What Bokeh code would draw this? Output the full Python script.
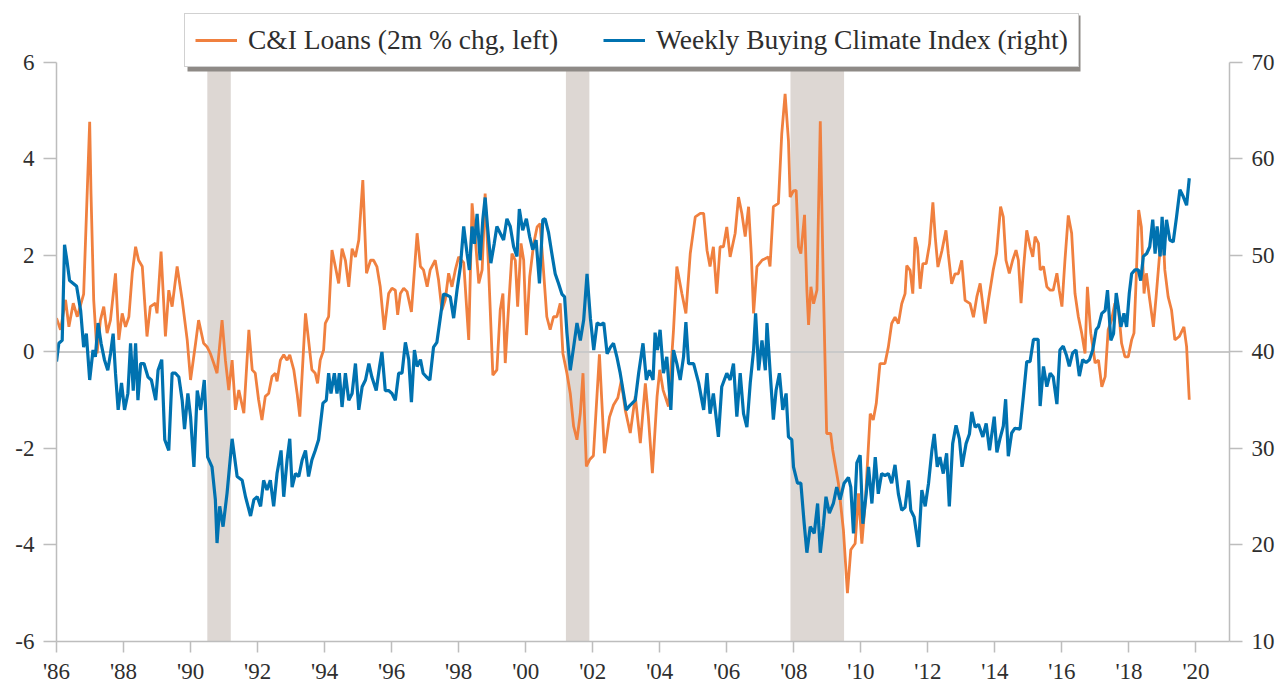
from bokeh.plotting import figure
from bokeh.models import (Range1d, LinearAxis, FixedTicker, BoxAnnotation, Span,
                          Legend, LegendItem)
from bokeh.embed import file_html
from bokeh.resources import INLINE

# ---------------- data ----------------
ci_years = [
    1986.00, 1986.12, 1986.27, 1986.37, 1986.50, 1986.62, 1986.81, 1986.99, 1987.03, 1987.11,
    1987.21, 1987.31, 1987.41, 1987.51, 1987.61, 1987.76, 1987.86, 1987.96, 1988.06, 1988.16,
    1988.26, 1988.36, 1988.45, 1988.56, 1988.70, 1988.80, 1988.95, 1989.00, 1989.12, 1989.25,
    1989.35, 1989.45, 1989.60, 1989.75, 1989.90, 1990.00, 1990.15, 1990.24, 1990.39, 1990.49,
    1990.59, 1990.69, 1990.79, 1990.94, 1991.04, 1991.14, 1991.24, 1991.34, 1991.44, 1991.59,
    1991.74, 1991.84, 1991.93, 1992.03, 1992.13, 1992.23, 1992.33, 1992.43, 1992.53, 1992.58,
    1992.68, 1992.78, 1992.88, 1992.96, 1993.08, 1993.18, 1993.26, 1993.43, 1993.52, 1993.62,
    1993.72, 1993.79, 1993.87, 1993.97, 1994.02, 1994.12, 1994.22, 1994.32, 1994.42, 1994.52,
    1994.62, 1994.72, 1994.82, 1994.92, 1995.02, 1995.14, 1995.25, 1995.37, 1995.46, 1995.56,
    1995.66, 1995.78, 1995.91, 1996.01, 1996.11, 1996.18, 1996.26, 1996.36, 1996.46, 1996.59,
    1996.76, 1996.86, 1996.95, 1997.06, 1997.15, 1997.30, 1997.40, 1997.50, 1997.60, 1997.70,
    1997.80, 1997.90, 1998.00, 1998.15, 1998.30, 1998.40, 1998.50, 1998.60, 1998.70, 1998.79,
    1998.89, 1999.02, 1999.14, 1999.24, 1999.32, 1999.39, 1999.49, 1999.59, 1999.69, 1999.76,
    1999.86, 1999.94, 2000.02, 2000.12, 2000.24, 2000.34, 2000.43, 2000.53, 2000.63, 2000.73,
    2000.83, 2000.93, 2001.03, 2001.11, 2001.23, 2001.33, 2001.43, 2001.53, 2001.63, 2001.71,
    2001.81, 2001.91, 2002.02, 2002.20, 2002.35, 2002.50, 2002.62, 2002.75, 2002.85, 2002.97,
    2003.12, 2003.27, 2003.42, 2003.57, 2003.66, 2003.78, 2003.92, 2004.00, 2004.10, 2004.26,
    2004.41, 2004.51, 2004.66, 2004.78, 2004.91, 2005.06, 2005.21, 2005.31, 2005.41, 2005.50,
    2005.60, 2005.70, 2005.80, 2005.90, 2006.00, 2006.10, 2006.25, 2006.35, 2006.45, 2006.55,
    2006.65, 2006.73, 2006.80, 2006.90, 2007.05, 2007.24, 2007.29, 2007.39, 2007.54, 2007.64,
    2007.74, 2007.84, 2007.89, 2007.99, 2008.07, 2008.14, 2008.21, 2008.32, 2008.39, 2008.44,
    2008.51, 2008.59, 2008.69, 2008.79, 2008.88, 2008.98, 2009.10, 2009.16, 2009.33, 2009.48,
    2009.60, 2009.70, 2009.83, 2009.93, 2010.03, 2010.13, 2010.28, 2010.37, 2010.46, 2010.57,
    2010.72, 2010.82, 2010.92, 2011.02, 2011.12, 2011.22, 2011.32, 2011.37, 2011.47, 2011.55,
    2011.62, 2011.69, 2011.77, 2011.85, 2011.95, 2012.05, 2012.15, 2012.22, 2012.30, 2012.42,
    2012.54, 2012.61, 2012.71, 2012.81, 2012.91, 2013.01, 2013.11, 2013.26, 2013.36, 2013.46,
    2013.56, 2013.71, 2013.81, 2013.95, 2014.05, 2014.17, 2014.25, 2014.33, 2014.43, 2014.53,
    2014.63, 2014.70, 2014.78, 2014.85, 2014.95, 2015.05, 2015.13, 2015.20, 2015.30, 2015.35,
    2015.45, 2015.55, 2015.65, 2015.74, 2015.85, 2015.92, 2016.00, 2016.09, 2016.19, 2016.29,
    2016.39, 2016.49, 2016.59, 2016.69, 2016.76, 2016.86, 2016.99, 2017.09, 2017.19, 2017.29,
    2017.38, 2017.48, 2017.58, 2017.68, 2017.78, 2017.88, 2017.98, 2018.08, 2018.15, 2018.21,
    2018.29, 2018.37, 2018.45, 2018.52, 2018.62, 2018.73, 2018.81, 2018.90, 2019.01, 2019.07,
    2019.17, 2019.27, 2019.37, 2019.50, 2019.64, 2019.72, 2019.80,
]
ci_values = [
    0.70, 0.46, 1.08, 0.52, 1.01, 0.73, 1.20, 4.77, 3.28, 1.08,
    -0.03, 0.66, 0.94, 0.39, 0.66, 1.63, 0.25, 0.80, 0.52, 0.73,
    1.63, 2.18, 1.90, 1.77, 0.32, 0.94, 1.01, 0.80, 2.08, 0.32,
    1.28, 0.94, 1.77, 1.08, 0.25, -0.58, 0.18, 0.66, 0.18, 0.11,
    -0.03, -0.23, -0.44, 0.66, -0.17, -0.79, -0.17, -1.20, -0.79, -1.27,
    0.46, -0.37, -0.44, -0.99, -1.41, -0.92, -0.86, -0.51, -0.44, -0.61,
    -0.17, -0.06, -0.17, -0.06, -0.37, -0.86, -1.34, 0.80, 0.25, -0.37,
    -0.44, -0.65, -0.17, 0.04, 0.59, 0.73, 2.11, 1.77, 1.42, 2.14,
    1.90, 1.35, 2.14, 1.97, 2.32, 3.56, 1.63, 1.90, 1.90, 1.77,
    1.35, 0.46, 1.21, 1.32, 1.28, 0.77, 1.21, 1.32, 1.25, 0.83,
    2.46, 1.77, 1.70, 1.35, 1.70, 1.90, 1.49, 0.87, 1.08, 1.63,
    1.35, 1.70, 1.97, 1.85, 0.25, 3.08, 2.32, 1.42, 1.70, 3.28,
    1.77, -0.48, -0.37, 0.87, 1.21, -0.23, 0.94, 2.04, 1.90, 0.94,
    2.25, 1.90, 0.35, 1.56, 2.25, 2.59, 2.66, 1.70, 0.73, 0.46,
    0.73, 0.73, 1.01, -0.03, -0.44, -0.86, -1.54, -1.82, -1.27, -0.44,
    -2.37, -2.23, -2.15, -0.05, -2.10, -1.35, -1.10, -0.95, -0.60, -1.20,
    -1.68, -0.92, -1.89, -0.65, -1.34, -2.51, -0.92, -0.37, -0.79, -1.13,
    0.45, 1.77, 1.21, 0.80, 2.04, 2.80, 2.87, 2.87, 2.11, 1.77,
    2.18, 1.21, 2.18, 2.18, 2.59, 1.97, 2.46, 3.21, 2.87, 2.39,
    3.01, 2.04, 0.80, 1.77, 1.90, 1.97, 1.77, 3.01, 3.08, 4.52,
    5.35, 4.38, 3.21, 3.34, 3.35, 2.18, 2.04, 2.84, 1.28, 0.56,
    1.35, 1.00, 1.28, 4.78, 1.41, -1.69, -1.69, -2.03, -2.72, -3.69,
    -5.00, -4.10, -3.97, -2.93, -3.97, -3.14, -1.28, -1.41, -1.07, -0.24,
    -0.24, 0.10, 0.59, 0.72, 0.59, 1.00, 1.21, 1.79, 1.69, 1.21,
    2.38, 2.17, 1.31, 1.83, 1.83, 2.24, 3.10, 2.38, 1.76, 2.10,
    2.52, 2.03, 1.41, 1.62, 1.62, 1.90, 1.07, 1.00, 0.72, 1.14,
    1.42, 0.59, 1.08, 1.70, 2.04, 3.01, 2.80, 1.90, 1.63, 1.90,
    2.11, 1.90, 1.01, 1.70, 2.52, 2.18, 1.97, 2.39, 2.25, 1.70,
    1.77, 1.35, 1.28, 1.28, 1.63, 1.28, 0.94, 1.90, 2.83, 2.46,
    1.21, 0.73, 0.39, -0.03, 1.35, 0.39, -0.23, -0.17, -0.72, -0.51,
    0.46, 0.66, 1.01, 0.94, 0.18, -0.10, -0.10, 0.25, 0.39, 1.42,
    2.94, 2.59, 1.21, 1.63, 1.08, 0.52, 1.14, 1.90, 2.59, 1.70,
    1.14, 0.87, 0.25, 0.32, 0.52, 0.11, -0.99,
]

bci_years = [
    1986.00, 1986.07, 1986.17, 1986.24, 1986.31, 1986.39, 1986.50, 1986.60, 1986.72, 1986.81,
    1986.89, 1986.99, 1987.09, 1987.16, 1987.24, 1987.33, 1987.43, 1987.53, 1987.61, 1987.69,
    1987.76, 1987.84, 1987.94, 1988.03, 1988.13, 1988.21, 1988.29, 1988.36, 1988.43, 1988.51,
    1988.61, 1988.73, 1988.83, 1988.96, 1989.03, 1989.14, 1989.23, 1989.35, 1989.45, 1989.55,
    1989.65, 1989.75, 1989.82, 1989.92, 1990.00, 1990.10, 1990.20, 1990.30, 1990.41, 1990.51,
    1990.64, 1990.74, 1990.79, 1990.87, 1990.97, 1991.09, 1991.24, 1991.39, 1991.54, 1991.64,
    1991.79, 1991.89, 1991.99, 1992.09, 1992.18, 1992.28, 1992.38, 1992.48, 1992.58, 1992.70,
    1992.78, 1992.88, 1992.96, 1993.03, 1993.13, 1993.23, 1993.33, 1993.43, 1993.52, 1993.62,
    1993.72, 1993.82, 1993.95, 1994.05, 1994.12, 1994.19, 1994.29, 1994.37, 1994.44, 1994.52,
    1994.62, 1994.72, 1994.82, 1994.92, 1995.02, 1995.12, 1995.22, 1995.32, 1995.41, 1995.54,
    1995.64, 1995.71, 1995.81, 1995.91, 1996.01, 1996.11, 1996.21, 1996.31, 1996.41, 1996.51,
    1996.59, 1996.68, 1996.76, 1996.86, 1996.94, 1997.04, 1997.14, 1997.25, 1997.35, 1997.45,
    1997.55, 1997.65, 1997.75, 1997.85, 1997.95, 1998.05, 1998.15, 1998.25, 1998.32, 1998.40,
    1998.47, 1998.55, 1998.64, 1998.72, 1998.79, 1998.86, 1998.96, 1999.06, 1999.14, 1999.24,
    1999.34, 1999.44, 1999.54, 1999.64, 1999.74, 1999.81, 1999.91, 2000.02, 2000.12, 2000.21,
    2000.31, 2000.41, 2000.51, 2000.58, 2000.68, 2000.78, 2000.88, 2000.98, 2001.08, 2001.16,
    2001.23, 2001.33, 2001.43, 2001.53, 2001.63, 2001.73, 2001.83, 2001.93, 2002.03, 2002.13,
    2002.23, 2002.33, 2002.43, 2002.53, 2002.62, 2002.72, 2002.82, 2002.92, 2003.00, 2003.12,
    2003.27, 2003.37, 2003.50, 2003.60, 2003.69, 2003.80, 2003.86, 2003.93, 2004.01, 2004.11,
    2004.21, 2004.33, 2004.41, 2004.51, 2004.61, 2004.71, 2004.78, 2004.86, 2005.01, 2005.16,
    2005.31, 2005.41, 2005.50, 2005.60, 2005.75, 2005.85, 2006.00, 2006.10, 2006.20, 2006.30,
    2006.40, 2006.50, 2006.60, 2006.70, 2006.80, 2006.86, 2006.95, 2007.05, 2007.15, 2007.20,
    2007.29, 2007.39, 2007.47, 2007.57, 2007.67, 2007.77, 2007.84, 2007.94, 2007.99, 2008.11,
    2008.21, 2008.31, 2008.39, 2008.49, 2008.61, 2008.71, 2008.79, 2008.88, 2008.96, 2009.06,
    2009.18, 2009.28, 2009.38, 2009.50, 2009.63, 2009.70, 2009.78, 2009.88, 2009.98, 2010.06,
    2010.16, 2010.23, 2010.33, 2010.43, 2010.52, 2010.62, 2010.72, 2010.82, 2010.92, 2011.02,
    2011.12, 2011.22, 2011.32, 2011.42, 2011.49, 2011.59, 2011.72, 2011.82, 2011.92, 2012.02,
    2012.12, 2012.19, 2012.28, 2012.36, 2012.46, 2012.56, 2012.64, 2012.74, 2012.84, 2012.94,
    2013.02, 2013.14, 2013.24, 2013.31, 2013.41, 2013.51, 2013.64, 2013.74, 2013.84, 2013.98,
    2014.06, 2014.15, 2014.25, 2014.32, 2014.40, 2014.50, 2014.60, 2014.75, 2014.85, 2014.95,
    2015.05, 2015.15, 2015.29, 2015.35, 2015.45, 2015.55, 2015.65, 2015.74, 2015.85, 2015.94,
    2016.04, 2016.14, 2016.22, 2016.32, 2016.42, 2016.52, 2016.62, 2016.72, 2016.82, 2016.92,
    2017.02, 2017.09, 2017.19, 2017.29, 2017.36, 2017.46, 2017.54, 2017.62, 2017.68, 2017.76,
    2017.85, 2017.93, 2018.01, 2018.08, 2018.18, 2018.28, 2018.35, 2018.43, 2018.53, 2018.62,
    2018.71, 2018.78, 2018.84, 2018.93, 2018.99, 2019.05, 2019.12, 2019.22, 2019.32, 2019.42,
    2019.52, 2019.62, 2019.72, 2019.80,
]
bci_values = [
    39.0, 40.9, 41.2, 51.1, 49.5, 47.4, 47.1, 46.8, 44.3, 40.5,
    41.9, 37.1, 40.2, 39.5, 43.0, 40.9, 39.2, 38.1, 39.8, 41.9,
    37.8, 34.0, 36.8, 34.0, 35.7, 40.9, 36.0, 40.9, 35.0, 38.8,
    38.8, 37.4, 37.1, 35.0, 38.1, 39.2, 30.9, 29.8, 37.8, 37.8,
    37.4, 35.0, 32.0, 35.7, 33.3, 28.1, 36.0, 34.0, 37.1, 29.1,
    28.1, 24.7, 20.2, 24.0, 21.9, 25.4, 31.0, 27.1, 26.7, 25.0,
    23.0, 24.7, 25.0, 24.0, 26.7, 25.7, 26.7, 24.0, 27.4, 29.8,
    25.0, 28.8, 31.0, 26.0, 27.4, 27.1, 28.8, 29.8, 27.1, 28.8,
    29.8, 30.9, 34.7, 35.0, 37.8, 35.7, 37.8, 35.7, 37.8, 34.3,
    37.8, 35.0, 35.7, 38.8, 34.0, 36.4, 37.1, 38.8, 37.4, 36.0,
    38.5, 40.0, 36.0, 36.0, 35.7, 35.0, 37.8, 37.8, 41.0, 39.2,
    34.8, 40.2, 38.5, 39.2, 37.8, 37.4, 37.1, 40.5, 41.0, 43.5,
    46.0, 45.9, 45.7, 43.5, 46.4, 48.8, 53.0, 50.2, 48.5, 53.0,
    51.2, 54.3, 49.5, 53.7, 56.0, 53.0, 49.2, 51.2, 53.0, 52.3,
    51.6, 53.8, 53.0, 50.9, 49.9, 54.8, 52.6, 53.8, 51.9, 50.6,
    51.6, 47.1, 53.7, 53.8, 52.4, 50.2, 48.1, 47.1, 46.0, 45.7,
    42.0, 38.1, 40.5, 43.0, 41.2, 43.3, 48.1, 43.5, 40.2, 43.0,
    42.8, 43.0, 39.8, 40.5, 40.9, 39.5, 37.8, 35.7, 34.0, 34.5,
    35.0, 37.8, 40.9, 37.1, 38.1, 37.1, 42.0, 40.2, 42.3, 37.8,
    39.5, 34.0, 40.2, 38.8, 37.1, 39.5, 43.1, 38.8, 38.8, 36.8,
    34.0, 37.8, 33.6, 35.7, 31.2, 36.4, 37.8, 37.1, 38.8, 33.3,
    37.8, 33.6, 32.2, 36.8, 40.2, 44.0, 38.1, 41.2, 38.1, 43.0,
    38.1, 33.0, 36.0, 37.8, 34.0, 35.7, 31.2, 30.9, 28.1, 26.4,
    26.4, 22.2, 19.2, 21.9, 21.2, 24.3, 19.2, 22.0, 25.0, 23.3,
    24.3, 26.0, 24.7, 26.4, 27.0, 26.0, 21.2, 28.5, 29.3, 22.2,
    25.3, 28.1, 24.3, 29.1, 25.3, 27.4, 27.2, 27.4, 26.4, 28.3,
    25.3, 23.6, 23.9, 26.7, 23.6, 22.9, 19.8, 25.7, 24.0, 26.4,
    29.8, 31.5, 28.1, 29.1, 27.4, 29.5, 24.0, 30.5, 32.4, 31.0,
    28.1, 30.5, 31.5, 33.8, 32.2, 32.5, 31.2, 32.6, 29.8, 33.3,
    29.6, 31.0, 32.3, 35.1, 29.2, 31.6, 32.1, 32.0, 35.4, 39.0,
    39.0, 41.3, 41.3, 34.4, 38.5, 36.4, 37.8, 37.4, 34.6, 40.2,
    40.6, 39.6, 38.5, 39.9, 40.2, 37.5, 39.2, 38.9, 39.2, 40.2,
    42.3, 42.6, 44.0, 44.3, 46.4, 41.2, 41.9, 46.1, 44.7, 42.6,
    44.0, 42.6, 46.1, 48.1, 48.5, 48.5, 47.4, 49.9, 50.2, 50.9,
    53.7, 50.2, 53.0, 49.9, 54.0, 50.0, 53.7, 51.6, 51.4, 54.0,
    56.8, 56.1, 55.2, 58.0,
]

recession_start = [1990.5, 2001.2, 2007.9]
recession_end = [1991.2, 2001.9, 2009.5]

x_ticks = [1986, 1988, 1990, 1992, 1994, 1996, 1998, 2000, 2002, 2004,
           2006, 2008, 2010, 2012, 2014, 2016, 2018, 2020]
x_tick_labels = ["'86", "'88", "'90", "'92", "'94", "'96", "'98", "'00", "'02", "'04",
                 "'06", "'08", "'10", "'12", "'14", "'16", "'18", "'20"]
left_ticks = [-6, -4, -2, 0, 2, 4, 6]
left_tick_labels = ["-6", "-4", "-2", "0", "2", "4", "6"]
right_ticks = [10, 20, 30, 40, 50, 60, 70]

ci_label = "C&I Loans (2m % chg, left)"
bci_label = "Weekly Buying Climate Index (right)"

# ---------------- style ----------------
FONT = "Liberation Serif"
ORANGE = "#F0803F"
BLUE = "#0072B0"
AXIS_GREY = "#BDBDBD"
TEXT = "#2E2E2E"
BAND = "#DDD7D3"
SHADOW = "#8E8A86"

W, H = 1284, 686
FL, FR, FT, FB = 56, 1229, 10, 642      # frame box in pixels
SCALE_TOP = 62                           # pixel row of the top of the -6..6 scale
X0, X1 = 1986, 2021
LEFT_MIN, LEFT_MAX = -6, 6
RIGHT_MIN, RIGHT_MAX = 10, 70
px_per_unit = (FB - SCALE_TOP) / (LEFT_MAX - LEFT_MIN)
y_top = LEFT_MAX + (SCALE_TOP - FT) / px_per_unit
r_top = RIGHT_MAX + (SCALE_TOP - FT) / px_per_unit * (RIGHT_MAX - RIGHT_MIN) / (LEFT_MAX - LEFT_MIN)

# legend box (pixels) and its shadow offset
LG_L, LG_B = 184, 68
LG_W, LG_H = 893, 56
SH = 3


def px_to_x(px):
    return X0 + (px - FL) * (X1 - X0) / (FR - FL)


def py_to_y(py):
    return LEFT_MAX - (py - SCALE_TOP) / px_per_unit


p = figure(width=W, height=H, output_backend="svg", toolbar_location=None,
           x_range=Range1d(X0, X1), y_range=Range1d(LEFT_MIN, y_top),
           min_border_left=FL, min_border_right=W - FR, min_border_top=FT,
           min_border_bottom=H - FB, background_fill_color="white",
           border_fill_color="white")
p.extra_y_ranges = {"right": Range1d(RIGHT_MIN, r_top)}
p.xgrid.visible = False
p.ygrid.visible = False
p.outline_line_color = None

for s, e in zip(recession_start, recession_end):
    p.add_layout(BoxAnnotation(left=s, right=e, bottom=LEFT_MIN, top=LEFT_MAX,
                               fill_color=BAND, fill_alpha=1.0,
                               line_color=None, level="underlay"))

p.add_layout(Span(location=0, dimension="width", line_color="#C9C9C9",
                  line_width=2, level="underlay"))

r_ci = p.line(ci_years, ci_values, line_color=ORANGE, line_width=2.8)
r_bci = p.line(bci_years, bci_values, line_color=BLUE, line_width=3.2,
               y_range_name="right")


def style_axis(ax):
    ax.axis_line_color = AXIS_GREY
    ax.axis_line_width = 1.5
    ax.major_tick_line_color = AXIS_GREY
    ax.major_tick_line_width = 1.5
    ax.major_tick_in = 0
    ax.major_tick_out = 13
    ax.minor_tick_line_color = None
    ax.major_label_text_font = FONT
    ax.major_label_text_font_size = "23px"
    ax.major_label_text_color = TEXT


xa = p.xaxis[0]
xa.ticker = FixedTicker(ticks=x_ticks)
xa.major_label_overrides = {t: lab for t, lab in zip(x_ticks, x_tick_labels)}
style_axis(xa)
xa.major_tick_out = 11
xa.major_label_standoff = 6

ya = p.yaxis[0]
ya.ticker = FixedTicker(ticks=left_ticks)
ya.major_label_overrides = {t: lab for t, lab in zip(left_ticks, left_tick_labels)}
ya.bounds = (LEFT_MIN, LEFT_MAX)
style_axis(ya)
ya.major_label_standoff = 9

ra = LinearAxis(y_range_name="right", ticker=FixedTicker(ticks=right_ticks))
ra.bounds = (RIGHT_MIN, RIGHT_MAX)
style_axis(ra)
ra.major_label_standoff = 9
p.add_layout(ra, "right")

# legend drop shadow (a box behind the legend, offset down-right)
p.add_layout(BoxAnnotation(left=px_to_x(LG_L + SH), right=px_to_x(LG_L + LG_W + SH),
                           top=py_to_y(LG_B - LG_H + SH), bottom=py_to_y(LG_B + SH),
                           fill_color=SHADOW, fill_alpha=1.0, line_color=None))

legend = Legend(items=[LegendItem(label=ci_label, renderers=[r_ci]),
                       LegendItem(label=bci_label, renderers=[r_bci])],
                location=(LG_L - FL, FB - LG_B), orientation="horizontal",
                padding=10, spacing=45, label_standoff=11,
                glyph_width=42, glyph_height=24, margin=0,
                label_text_font=FONT, label_text_font_size="27.5px",
                background_fill_color="white", background_fill_alpha=1.0,
                border_line_color="#A3A3A3", border_line_width=1.5,
                label_text_color=TEXT)
p.add_layout(legend)

open("out.html", "w").write(file_html(p, INLINE))
